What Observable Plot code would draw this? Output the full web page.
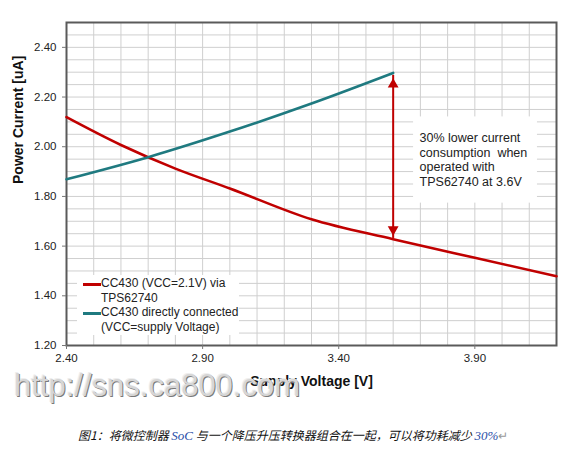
<!DOCTYPE html>
<html>
<head>
<meta charset="utf-8">
<script src="https://cdn.jsdelivr.net/npm/d3@7"></script>
<script src="https://cdn.jsdelivr.net/npm/@observablehq/plot@0.6"></script>
<style>
  html, body { margin: 0; padding: 0; background: #fff; }
  #wrap { position: relative; width: 563px; height: 462px; overflow: hidden; background: #fff; }
  #chart { position: absolute; left: 0; top: 0; }
  .legend { position: absolute; left: 77px; top: 275px; width: 162px; height: 60px; background: #fff;
            font-family: "Liberation Sans", Arial, sans-serif; font-size: 12px; color: #222; line-height: 14.5px; }
  .legend .row { position: absolute; left: 24px; }
  .legend .sw { position: absolute; left: -18px; top: 7px; width: 18px; height: 2.6px; }
  .wm { position: absolute; left: 14px; top: 370px; font-family: "Liberation Sans", Arial, sans-serif; font-size: 31px;
        line-height: 31px; color: #d6d6d6; text-shadow: 1px 1px 0 #7a7a7a, -1px -1px 0 #eeeeee; white-space: nowrap; }
  .cap { position: absolute; left: 78px; top: 426px; font-family: "Noto Sans CJK SC", sans-serif; font-style: italic;
         font-size: 12px; color: #111; white-space: nowrap; }
  .cap .lat { font-family: "Liberation Serif", serif; color: #2b4fa8; font-size: 13px; }
  .cap .pm { color: #999; font-style: normal; }
</style>
</head>
<body>
<div id="wrap">
  <div id="chart"></div>
</div>
<script>
// ---- data ----
const redVolts   = [2.4, 2.6, 2.8, 3.0, 3.3, 3.6, 3.9, 4.2];
const redCurrent = [2.119, 2.007, 1.912, 1.832, 1.708, 1.628, 1.553, 1.479];
const blueVolts   = [2.4, 2.7, 3.0, 3.3, 3.6];
const blueCurrent = [1.869, 1.958, 2.061, 2.174, 2.297];
const seriesNames = ["CC430 (VCC=2.1V) via\nTPS62740", "CC430 directly connected\n(VCC=supply Voltage)"];
const seriesColors = ["#c00000", "#1f7a80"];
const xTicks = [2.4, 2.9, 3.4, 3.9];
const yTicks = [1.2, 1.4, 1.6, 1.8, 2.0, 2.2, 2.4];
const xTitle = "Supply Voltage [V]";
const yTitle = "Power Current [uA]";
const annotText = "30% lower current\nconsumption  when\noperated with\nTPS62740 at 3.6V";
const arrowAt = {x: 3.6, top: 2.267, bottom: 1.651};
const annotBox = [{x1: 3.675, x2: 4.13, y1: 1.773, y2: 2.12}];
const annotPos = [{x: 3.697, y: 2.06}];
const caption = ["图1：将微控制器", "SoC", "与一个降压升压转换器组合在一起，可以将功耗减少", "30%"];
const watermark = "http://sns.ca800.com";

const red = redVolts.map((v, i) => ({v, c: redCurrent[i]}));
const blue = blueVolts.map((v, i) => ({v, c: blueCurrent[i]}));
const xGrid = d3.range(24, 43).map(d => d / 10);
const yGrid = d3.range(24, 51).map(d => d / 20);

const chart = Plot.plot({
  width: 563, height: 400,
  marginLeft: 66, marginRight: 7, marginTop: 22, marginBottom: 55,
  x: {domain: [2.4, 4.2]},
  y: {domain: [1.2, 2.5]},
  style: {fontFamily: "'Liberation Sans', Arial, sans-serif", fontSize: "11.5px", color: "#222", background: "white"},
  marks: [
    Plot.ruleX(xGrid, {stroke: "#cfcfcf", strokeWidth: 1}),
    Plot.ruleY(yGrid, {stroke: "#cfcfcf", strokeWidth: 1}),
    Plot.rect(annotBox, {x1: "x1", x2: "x2", y1: "y1", y2: "y2", fill: "white"}),
    Plot.frame({stroke: "#5a5a5a", strokeWidth: 2}),
    Plot.axisX({ticks: xTicks, tickSize: 4, tickPadding: 4, tickFormat: d3.format(".2f"), label: null, stroke: "#777"}),
    Plot.axisY({ticks: yTicks, tickSize: 4, tickPadding: 6, tickFormat: d3.format(".2f"), label: null, stroke: "#777"}),
    Plot.line(red, {x: "v", y: "c", stroke: seriesColors[0], strokeWidth: 2.6, curve: "monotone-x"}),
    Plot.line(blue, {x: "v", y: "c", stroke: seriesColors[1], strokeWidth: 2.6, curve: "monotone-x"}),
    Plot.ruleX([arrowAt], {x: "x", y1: d => d.bottom, y2: d => d.top, stroke: "#c00000", strokeWidth: 2, insetTop: 5, insetBottom: 5}),
    Plot.dot([arrowAt], {x: "x", y: "top", symbol: "triangle", r: 4, fill: "#c00000", dy: 4}),
    Plot.dot([arrowAt], {x: "x", y: "bottom", symbol: "triangle", r: 4, fill: "#c00000", dy: -4, rotate: 180}),
    Plot.text(annotPos, {x: "x", y: "y", text: () => annotText, textAnchor: "start", lineAnchor: "top", lineHeight: 1.16, fontSize: 12.5, fill: "#222"}),
    Plot.text([yTitle], {frameAnchor: "left", rotate: -90, dx: -48, fontWeight: "bold", fontSize: 14, fill: "#111"}),
    Plot.text([xTitle], {frameAnchor: "bottom", dy: 40, fontWeight: "bold", fontSize: 14, fill: "#111"})
  ]
});
document.getElementById("chart").appendChild(chart);

const wrap = document.getElementById("wrap");
// legend
const leg = document.createElement("div");
leg.className = "legend";
const rowTops = [1, 30];
seriesNames.forEach((name, i) => {
  const row = document.createElement("div");
  row.className = "row";
  row.style.top = rowTops[i] + "px";
  const sw = document.createElement("div");
  sw.className = "sw";
  sw.style.background = seriesColors[i];
  row.appendChild(sw);
  name.split("\n").forEach(t => { const l = document.createElement("div"); l.textContent = t; row.appendChild(l); });
  leg.appendChild(row);
});
wrap.appendChild(leg);
// watermark
const wm = document.createElement("div");
wm.className = "wm";
wm.textContent = watermark;
wrap.appendChild(wm);
// caption
const cap = document.createElement("div");
cap.className = "cap";
cap.innerHTML = `${caption[0]} <span class="lat">${caption[1]}</span> ${caption[2]} <span class="lat">${caption[3]}</span><span class="pm">↵</span>`;
wrap.appendChild(cap);
</script>
</body>
</html>
